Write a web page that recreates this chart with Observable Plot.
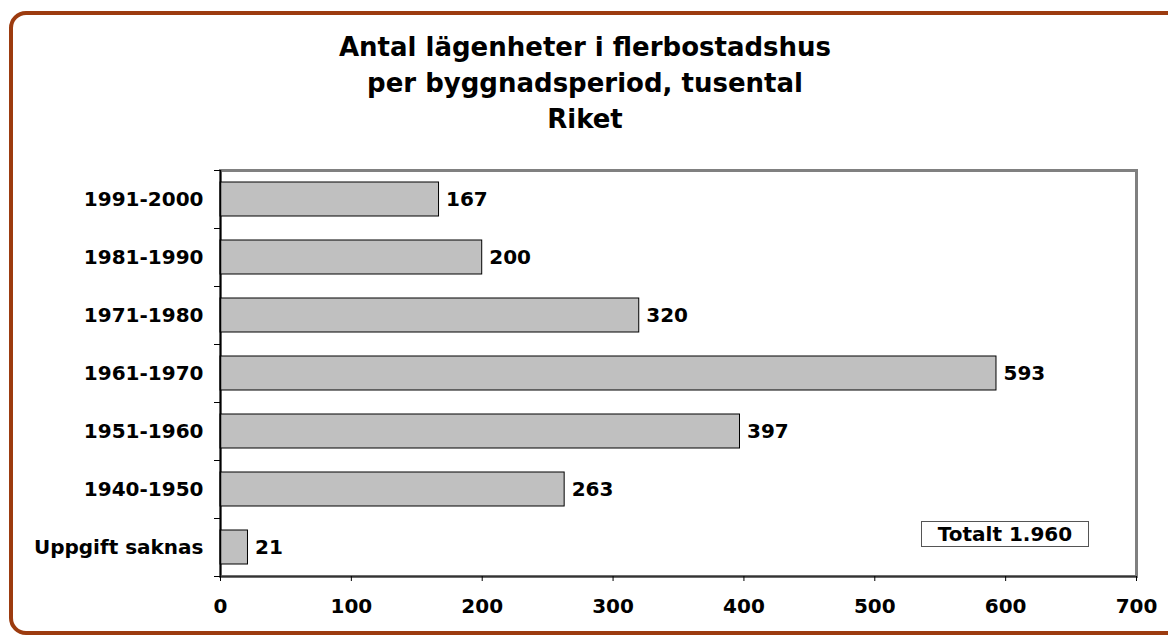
<!DOCTYPE html>
<html><head><meta charset="utf-8">
<script src="https://cdn.jsdelivr.net/npm/d3@7"></script>
<script src="https://cdn.jsdelivr.net/npm/@observablehq/plot@0.6"></script>
<style>
body{margin:0;background:#fff;font-family:"DejaVu Sans",Verdana,sans-serif;}
#wrap{position:relative;width:1168px;height:635px;overflow:hidden;}
#border{position:absolute;left:9px;top:11px;width:1180px;height:616px;border:4.5px solid #9c3b0f;border-radius:17px;}
#title{position:absolute;left:0;top:29px;width:1170px;text-align:center;font-weight:bold;font-size:26px;line-height:36px;color:#000;}
#total{position:absolute;left:921px;top:521px;width:166px;height:24px;border:1px solid #555;font-weight:bold;font-size:20px;line-height:24px;text-align:center;background:#fff;}
#chart{position:absolute;left:0;top:0;}
</style></head>
<body><div id="wrap">
<div id="border"></div>
<div id="title">Antal lägenheter i flerbostadshus<br>per byggnadsperiod, tusental<br>Riket</div>
<div id="chart"></div>
<div id="total">Totalt 1.960</div>
</div>
<script>
const categories = ["1991-2000","1981-1990","1971-1980","1961-1970","1951-1960","1940-1950","Uppgift saknas"];
const values = [167, 200, 320, 593, 397, 263, 21];
const xTicks = [0,100,200,300,400,500,600,700];

const data = categories.map((c,i)=>({cat:c, v:values[i]}));
const bandStep = 58;

const plot = Plot.plot({
  width: 1168, height: 635,
  marginLeft: 220, marginRight: 32, marginTop: 170, marginBottom: 59,
  style: {fontFamily: '"DejaVu Sans", Verdana, sans-serif', fontSize: "20px", fontWeight: "bold", color: "#000", background: "transparent", overflow: "visible"},
  x: {domain: [0,700], ticks: xTicks, label: null},
  y: {domain: categories, paddingInner: 0.41, paddingOuter: 0.205, label: null},
  marks: [
    Plot.frame({stroke: "#808080", strokeWidth: 3}),
    Plot.barX(data, {x: "v", y: "cat", fill: "#c0c0c0", stroke: "#000", strokeWidth: 1}),
    Plot.text(data, {x: "v", y: "cat", text: d => String(d.v), textAnchor: "start", dx: 7, fontWeight: "bold", fontSize: 20}),
    Plot.ruleX([0], {stroke: "#000", strokeWidth: 1.5}),
    Plot.ruleY([0], {y: () => categories[categories.length-1], dy: bandStep/2, stroke: "#333", strokeWidth: 1.5, x1: 0, x2: 700}),
    Plot.axisX({ticks: xTicks, tickSize: 5, tickPadding: 17, fontWeight: "bold", fontSize: 20, label: null}),
    Plot.axisY({tickSize: 0, tickPadding: 17, fontWeight: "bold", fontSize: 20, label: null}),
    Plot.axisY({tickSize: 6, tickFormat: () => "", dy: -bandStep/2, label: null}),
    Plot.axisY({tickSize: 6, tickFormat: () => "", dy: bandStep/2, label: null})
  ]
});
document.getElementById("chart").appendChild(plot);
</script>
</body></html>
